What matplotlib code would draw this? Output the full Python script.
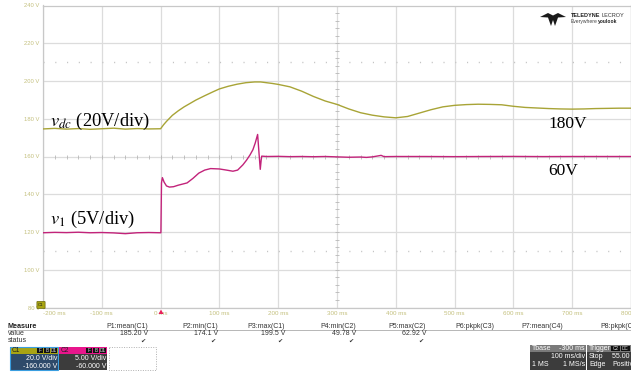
import matplotlib.pyplot as plt
import numpy as np
from matplotlib.patches import Rectangle, Polygon, FancyBboxPatch

plt.rcParams['mathtext.fontset'] = 'stix'

# C1: dc-link voltage (V) vs time (ms)
t_dc = [-200, -180, -160, -140, -120, -100, -80, -60, -40, -20, 0,
        5, 10, 20, 30, 40, 50, 60, 75, 90, 100, 115, 130, 145, 160, 170,
        180, 190, 200, 220, 240, 260, 280, 300, 320, 340, 360, 380, 400,
        420, 440, 460, 480, 500, 520, 540, 560, 580, 600, 620, 640, 660,
        680, 700, 720, 740, 760, 780, 800]
v_dc = [174.6, 174.9, 174.5, 174.8, 174.4, 174.7, 175.0, 174.5, 174.8, 174.6, 174.7,
        176.8, 178.6, 181.8, 184.2, 186.3, 188.1, 189.9, 192.2, 194.4, 195.8, 197.2, 198.3, 199.1, 199.5, 199.5,
        199.1, 198.7, 198.2, 196.9, 194.6, 191.8, 189.4, 187.6, 185.2, 183.2, 181.9, 181.0, 180.5,
        181.2, 183.0, 184.8, 186.3, 187.1, 187.5, 187.7, 187.6, 187.4, 186.6, 186.0, 185.7, 185.4,
        185.2, 185.1, 185.2, 185.4, 185.5, 185.6, 185.6]

# C2: v1 (V) vs time (ms)
t_v1 = [-200, -180, -160, -140, -120, -100, -80, -60, -40, -20, -1, 0.5,
        1.5, 3, 6, 10, 15, 22, 30, 45, 55, 65, 75, 85, 100, 112, 123, 131,
        140, 146, 152, 157, 161, 165, 167.5, 169.5, 171, 172, 180, 200, 220,
        240, 260, 280, 300, 320, 340, 350, 360, 370, 375, 380, 400, 450, 500,
        550, 600, 650, 700, 750, 800]
v1 = [49.9, 49.95, 49.92, 49.97, 49.9, 49.93, 49.88, 49.78, 49.9, 49.93, 49.9, 49.9,
      56.5, 57.2, 56.6, 56.1, 55.95, 56.0, 56.2, 56.5, 57.1, 57.8, 58.2, 58.4, 58.35, 58.2, 58.05, 58.2,
      58.9, 59.5, 60.2, 60.9, 61.8, 62.92, 60.3, 58.3, 59.5, 60.05, 60.0, 60.02, 59.98,
      60.0, 59.97, 60.0, 59.95, 59.9, 59.93, 59.88, 59.95, 60.08, 60.15, 59.98, 60.0, 60.0, 59.98,
      60.0, 60.01, 59.99, 60.0, 60.0, 60.0]

x_ticks = [-200, -100, 0, 100, 200, 300, 400, 500, 600, 700, 800]
y_ticks = [80, 100, 120, 140, 160, 180, 200, 220, 240]

measure_names = ['P1:mean(C1)', 'P2:min(C1)', 'P3:max(C1)', 'P4:min(C2)',
                 'P5:max(C2)', 'P6:pkpk(C3)', 'P7:mean(C4)', 'P8:pkpk(C4)']
measure_values = ['185.20 V', '174.1 V', '199.5 V', '49.78 V', '62.92 V', '', '', '']
measure_right = [148, 218, 285, 356, 426, 494, 563, 639]

YEL = '#a8a436'
MAG = '#c2237a'
LBL = '#c4c07e'
GRID = '#dcdcdc'
W, H = 631, 376
SANS = 'Liberation Sans'

fig = plt.figure(figsize=(W / 100, H / 100), dpi=100)
ax = fig.add_axes([43 / W, 1 - 307.5 / H, (W - 43) / W, 302 / H])
ax.set_xlim(-200, 800)
ax.set_ylim(80, 240)
ax.set_xticks(x_ticks)
ax.set_yticks(y_ticks)
ax.set_xticklabels([f'{t} ms' for t in x_ticks], fontsize=4.5, color=LBL, family=SANS)
ax.set_yticklabels([f'{v} V' for v in y_ticks], fontsize=4.2, color=LBL, family=SANS)
ax.get_xticklabels()[0].set_horizontalalignment('left')
ax.tick_params(length=0, pad=2.5)
ax.grid(color=GRID, lw=0.9)
for s in ax.spines.values():
    s.set_color('#c8c8c8')
    s.set_linewidth(0.9)

# centre cross with minor ticks, plus the dotted guide lines
ax.plot(np.arange(-200, 801, 20), np.full(51, 160), ls='none', marker='|', ms=3.5, mew=0.6, color='#b8b8b8')
ax.plot(np.full(41, 300), np.arange(80, 241, 4), ls='none', marker='_', ms=3.5, mew=0.6, color='#b8b8b8')
for yy in (210, 110):
    ax.axhline(yy, color='#c4c4c4', lw=1.0, ls=(0, (0.8, 7.67)))

ax.plot(t_dc, v_dc, color=YEL, lw=1.0, zorder=5)

ax2 = ax.twinx()
ax2.set_ylim(40, 80)
ax2.set_axis_off()
ax2.plot(t_v1, v1, color=MAG, lw=1.0, zorder=5)

ax.text(-188, 176.2, r'$v_{dc}$ (20V/div)', fontsize=13.3, family='Liberation Serif', va='baseline', zorder=6)
ax.text(-188, 124.4, r'$v_1$ (5V/div)', fontsize=13.3, family='Liberation Serif', va='baseline', zorder=6)
ax.text(660, 175.2, '180V', fontsize=12.5, family='Liberation Serif', va='baseline', zorder=6)
ax.text(660, 150.3, '60V', fontsize=12.5, family='Liberation Serif', va='baseline', zorder=6)

# overlay in pixel units for the scope furniture
ov = fig.add_axes([0, 0, 1, 1], zorder=10)
ov.set_xlim(0, W)
ov.set_ylim(H, 0)
ov.set_axis_off()
ov.patch.set_alpha(0)
renderer = fig.canvas.get_renderer()

# channel marker and trigger marker
ov.add_patch(FancyBboxPatch((37.5, 302), 7, 6, boxstyle='round,pad=0.6', fc='#a8a412', ec='#6c6a10', lw=0.5))
ov.text(41, 305.2, 'C1', fontsize=3.2, ha='center', va='center', family=SANS, color='#222')
ov.add_patch(Polygon([(158.5, 314), (163.5, 314), (161, 309.5)], closed=True, fc='#e8205a', ec='none'))

# logo
ov.add_patch(Polygon([(540, 17), (548, 13), (553, 15.5), (558, 13), (566, 17), (558, 17.5),
                      (555, 26), (553, 20), (551, 26), (548, 17.5)], closed=True, fc='#1a1a1a', ec='none'))


def word_pair(x, y, first, second, size, c1, c2, w1='bold', w2='normal'):
    t = ov.text(x, y, first, fontsize=size, weight=w1, family=SANS, va='center', color=c1)
    wpx = t.get_window_extent(renderer).width
    ov.text(x + wpx + 1.5 * (w1 == 'bold'), y, second, fontsize=size, weight=w2, family=SANS, va='center', color=c2)


word_pair(571, 15.5, 'TELEDYNE', 'LECROY', 4.0, '#222', '#333')
word_pair(571, 21.5, 'Everywhere', 'youlook', 3.6, '#444', '#222', w1='normal', w2='bold')

# measurement table
ov.text(8, 326, 'Measure', fontsize=5.2, weight='bold', family=SANS, va='center', color='#222')
ov.plot([8, W], [329.5, 329.5], color='#9a9a9a', lw=0.5)
ov.text(8, 333.5, 'value', fontsize=5, family=SANS, va='center', color='#333')
ov.text(8, 341, 'status', fontsize=5, family=SANS, va='center', color='#333')
for name, val, xr in zip(measure_names, measure_values, measure_right):
    ov.text(xr, 326, name, fontsize=5, family=SANS, ha='right', va='center', color='#333')
    if val:
        ov.text(xr, 333.5, val, fontsize=5, family=SANS, ha='right', va='center', color='#333')
        ov.text(xr - 2, 341, '\u2714', fontsize=4.5, family='DejaVu Sans', ha='right', va='center', color='#333')


# channel boxes
def chan_box(x0, name, head, body, l1, l2, edge):
    ov.add_patch(Rectangle((x0, 353.5), 48, 16.5, fc=body, ec='none'))
    ov.add_patch(Rectangle((x0, 346.5), 48, 7, fc=head, ec='none'))
    if edge:
        ov.add_patch(Rectangle((x0, 346.5), 48, 23.5, fc='none', ec=edge, lw=0.8))
    ov.text(x0 + 2, 350, name, fontsize=4.8, family=SANS, va='center', color='#222')
    for i, tag in enumerate(['F', 'B', 'D1']):
        bx = x0 + 27 + i * 6.8
        ov.add_patch(Rectangle((bx, 347.5), 6, 5.2, fc='#111', ec='none'))
        ov.text(bx + 3, 350.1, tag, fontsize=3.4, family=SANS, ha='center', va='center', color='#ddd')
    ov.text(x0 + 47, 358.5, l1, fontsize=5, family=SANS, ha='right', va='center', color='white')
    ov.text(x0 + 47, 366, l2, fontsize=5, family=SANS, ha='right', va='center', color='white')


chan_box(10, 'C1', '#a8a414', '#2e4a6a', '20.0 V/div', '-160.000 V', '#3a9ee0')
chan_box(59, 'C2', '#e8168c', '#3c3c3c', '5.00 V/div', '-60.000 V', None)
ov.add_patch(Rectangle((109, 347), 47, 23, fc='none', ec='#b0b0b0', lw=0.7, ls=(0, (1, 1.5))))

# timebase and trigger boxes
ov.add_patch(Rectangle((530, 344.5), 56, 7.5, fc='#7a7a7a', ec='none'))
ov.add_patch(Rectangle((530, 352), 56, 18, fc='#3c3c3c', ec='none'))
ov.add_patch(Rectangle((587, 344.5), 50, 7.5, fc='#7a7a7a', ec='none'))
ov.add_patch(Rectangle((587, 352), 50, 18, fc='#3c3c3c', ec='none'))
ov.text(532, 348.2, 'Tbase', fontsize=5, family=SANS, va='center', color='white')
ov.text(585, 348.2, '-300 ms', fontsize=5, family=SANS, ha='right', va='center', color='white')
ov.text(585, 356.5, '100 ms/div', fontsize=5, family=SANS, ha='right', va='center', color='white')
ov.text(532, 364.5, '1 MS', fontsize=5, family=SANS, va='center', color='white')
ov.text(585, 364.5, '1 MS/s', fontsize=5, family=SANS, ha='right', va='center', color='white')
ov.text(589, 348.2, 'Trigger', fontsize=5, family=SANS, va='center', color='white')
for i, tag in enumerate(['C2', 'DC']):
    bx = 611 + i * 10
    ov.add_patch(Rectangle((bx, 345.5), 9, 5.5, fc='#111', ec='none'))
    ov.text(bx + 4.5, 348.3, tag, fontsize=3.4, family=SANS, ha='center', va='center', color='#ddd')
ov.text(589, 356.5, 'Stop', fontsize=5, family=SANS, va='center', color='white')
ov.text(612, 356.5, '55.00 V', fontsize=5, family=SANS, va='center', color='white')
ov.text(589, 364.5, 'Edge', fontsize=5, family=SANS, va='center', color='white')
ov.text(612, 364.5, 'Positive', fontsize=5, family=SANS, va='center', color='white')

fig.savefig('out.png', dpi=100)
